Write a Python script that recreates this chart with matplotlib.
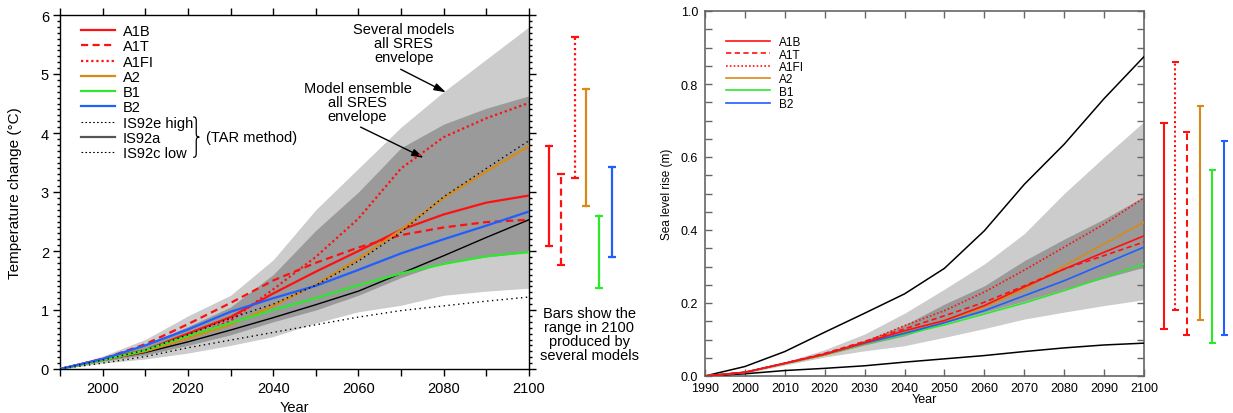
import matplotlib
matplotlib.use('Agg')
import matplotlib.pyplot as plt
from matplotlib.ticker import MultipleLocator, FormatStrFormatter
from matplotlib.lines import Line2D
from matplotlib.path import Path
from matplotlib.patches import PathPatch

plt.rcParams['font.family'] = ['Liberation Sans', 'DejaVu Sans']

# ---------------- data: temperature change (left) ----------------
years = [1990, 2000, 2010, 2020, 2030, 2040, 2050, 2060, 2070, 2080, 2090, 2100]
t_a1b = [0, 0.17, 0.32, 0.60, 0.88, 1.28, 1.65, 2.00, 2.36, 2.62, 2.82, 2.94]
t_a1t = [0, 0.17, 0.42, 0.76, 1.12, 1.50, 1.80, 2.06, 2.27, 2.40, 2.49, 2.53]
t_a1fi = [0, 0.15, 0.30, 0.52, 0.82, 1.35, 1.90, 2.55, 3.40, 3.93, 4.25, 4.51]
t_a2 = [0, 0.15, 0.30, 0.52, 0.75, 1.07, 1.43, 1.87, 2.36, 2.90, 3.35, 3.78]
t_b1 = [0, 0.15, 0.32, 0.56, 0.78, 1.00, 1.20, 1.42, 1.62, 1.78, 1.91, 1.98]
t_b2 = [0, 0.17, 0.40, 0.67, 0.97, 1.20, 1.41, 1.68, 1.96, 2.20, 2.43, 2.67]
t_is92e = [0, 0.15, 0.32, 0.58, 0.86, 1.10, 1.42, 1.83, 2.32, 2.92, 3.40, 3.87]
t_is92a = [0, 0.15, 0.28, 0.46, 0.66, 0.87, 1.09, 1.32, 1.62, 1.92, 2.23, 2.53]
t_is92c = [0, 0.10, 0.21, 0.36, 0.49, 0.62, 0.75, 0.88, 0.99, 1.07, 1.15, 1.22]
t_sev_hi = [0, 0.22, 0.50, 0.90, 1.25, 1.85, 2.70, 3.40, 4.10, 4.70, 5.25, 5.80]
t_sev_lo = [0, 0.10, 0.17, 0.27, 0.40, 0.55, 0.78, 0.97, 1.08, 1.25, 1.32, 1.37]
t_ens_hi = [0, 0.18, 0.42, 0.72, 1.05, 1.60, 2.35, 3.00, 3.75, 4.15, 4.42, 4.63]
t_ens_lo = [0, 0.13, 0.24, 0.40, 0.58, 0.80, 1.00, 1.25, 1.55, 1.80, 1.90, 1.98]

bar_names_t = ['A1B', 'A1T', 'A1FI', 'A2', 'B1', 'B2']
bar_lo_t = [2.08, 1.77, 3.23, 2.77, 1.37, 1.89]
bar_hi_t = [3.78, 3.31, 5.62, 4.74, 2.59, 3.42]

# ---------------- data: sea level rise (right) ----------------
s_a1b = [0, 0.010, 0.035, 0.060, 0.092, 0.124, 0.152, 0.193, 0.244, 0.293, 0.339, 0.384]
s_a1t = [0, 0.010, 0.035, 0.062, 0.095, 0.129, 0.165, 0.202, 0.247, 0.293, 0.330, 0.367]
s_a1fi = [0, 0.010, 0.035, 0.060, 0.093, 0.138, 0.179, 0.230, 0.290, 0.353, 0.416, 0.488]
s_a2 = [0, 0.010, 0.034, 0.058, 0.088, 0.119, 0.148, 0.189, 0.238, 0.302, 0.362, 0.421]
s_b1 = [0, 0.010, 0.034, 0.058, 0.087, 0.114, 0.140, 0.170, 0.200, 0.234, 0.270, 0.307]
s_b2 = [0, 0.010, 0.035, 0.060, 0.090, 0.117, 0.146, 0.179, 0.220, 0.261, 0.307, 0.353]
s_max = [0, 0.026, 0.067, 0.120, 0.172, 0.225, 0.295, 0.398, 0.525, 0.635, 0.760, 0.875]
s_min = [0, 0.006, 0.015, 0.021, 0.028, 0.038, 0.047, 0.056, 0.067, 0.077, 0.085, 0.090]
s_sev_hi = [0, 0.013, 0.038, 0.072, 0.115, 0.172, 0.238, 0.307, 0.390, 0.500, 0.600, 0.697]
s_sev_lo = [0, 0.007, 0.030, 0.052, 0.069, 0.083, 0.106, 0.130, 0.156, 0.175, 0.193, 0.209]
s_ens_hi = [0, 0.011, 0.036, 0.063, 0.098, 0.140, 0.197, 0.247, 0.316, 0.375, 0.430, 0.492]
s_ens_lo = [0, 0.009, 0.033, 0.057, 0.085, 0.110, 0.145, 0.175, 0.205, 0.238, 0.268, 0.298]

bar_names_s = ['A1B', 'A1FI', 'A1T', 'A2', 'B1', 'B2']
bar_lo_s = [0.129, 0.181, 0.112, 0.154, 0.090, 0.112]
bar_hi_s = [0.693, 0.859, 0.669, 0.740, 0.565, 0.645]

# ---------------- styles ----------------
RED, ORANGE, GREEN, BLUE = '#ff1010', '#d98a16', '#2ee82e', '#1f5eff'
LIGHT, DARK = '#cccccc', '#9a9a9a'
style = {
    'A1B': dict(color=RED, ls='-'),
    'A1T': dict(color=RED, ls=(0, (3.2, 2.0))),
    'A1FI': dict(color=RED, ls=(0, (1.0, 1.3))),
    'A2': dict(color=ORANGE, ls='-'),
    'B1': dict(color=GREEN, ls='-'),
    'B2': dict(color=BLUE, ls='-'),
}
bar_x_t = [2104.7, 2107.5, 2110.8, 2113.4, 2116.4, 2119.5]
bar_x_s = [2105.0, 2107.8, 2110.7, 2114.1, 2117.1, 2120.1]
ARROW = dict(arrowstyle='-|>,head_length=0.7,head_width=0.22', color='black', lw=1.0,
             shrinkA=0, shrinkB=0, mutation_scale=10)

fig = plt.figure(figsize=(12.33, 4.14), dpi=100)
ax1 = fig.add_axes([60 / 1233, 44 / 414, 469 / 1233, 354 / 414])
ax2 = fig.add_axes([705 / 1233, 37 / 414, 439 / 1233, 365 / 414])

# ================= left panel =================
ax1.fill_between(years, t_sev_lo, t_sev_hi, color=LIGHT, lw=0, zorder=1)
ax1.fill_between(years, t_ens_lo, t_ens_hi, color=DARK, lw=0, zorder=2)
ax1.plot(years, t_is92c, color='black', lw=1.0, ls=(0, (1, 2.5)), zorder=3)
ax1.plot(years, t_is92a, color='black', lw=1.0, zorder=3)
series_t = {'A1B': t_a1b, 'A1T': t_a1t, 'A1FI': t_a1fi, 'A2': t_a2, 'B1': t_b1, 'B2': t_b2}
handles = []
for name in ['A1B', 'A1T', 'A1FI', 'A2', 'B1', 'B2']:
    ln, = ax1.plot(years, series_t[name], color=style[name]['color'], ls=style[name]['ls'],
                   lw=1.6, zorder=4, label=name)
    handles.append(ln)
ax1.plot(years, t_is92e, color='black', lw=1.0, ls=(0, (1, 2.5)), zorder=5)
handles.append(Line2D([], [], color='black', lw=0.8, ls=(0, (1.5, 2.0)), label='IS92e high'))
handles.append(Line2D([], [], color='#555555', lw=1.6, label='IS92a'))
handles.append(Line2D([], [], color='black', lw=0.8, ls=(0, (1.5, 2.0)), label='IS92c low'))

for name, x, lo, hi in zip(bar_names_t, bar_x_t, bar_lo_t, bar_hi_t):
    c = style[name]['color']
    ax1.plot([x, x], [lo, hi], color=c, ls=style[name]['ls'], lw=1.6, clip_on=False)
    for yv in (lo, hi):
        ax1.plot([x - 1.0, x + 1.0], [yv, yv], color=c, lw=1.6, clip_on=False,
                 solid_capstyle='butt')

ax1.set_xlim(1990, 2100)
ax1.set_ylim(0, 6)
ax1.xaxis.set_major_locator(MultipleLocator(20))
ax1.xaxis.set_minor_locator(MultipleLocator(10))
ax1.yaxis.set_major_locator(MultipleLocator(1))
ax1.yaxis.set_minor_locator(MultipleLocator(0.1))
ax1.tick_params(which='both', direction='out', top=True, right=True, width=1.0,
                labelsize=10.5, colors='black')
ax1.tick_params(axis='x', which='major', length=5, pad=4)
ax1.tick_params(axis='x', which='minor', length=5)
ax1.tick_params(axis='y', which='major', length=5, pad=3)
ax1.tick_params(axis='y', which='minor', length=2.5)
for sp in ax1.spines.values():
    sp.set_linewidth(1.0)
ax1.set_xlabel('Year', fontsize=10.5)
ax1.xaxis.set_label_coords(0.5, -0.087)
ax1.set_ylabel('Temperature change (°C)', fontsize=11)
ax1.yaxis.set_label_coords(-0.081, 0.5)

ax1.legend(handles=handles, loc='upper left', bbox_to_anchor=(0.0448, 0.974),
           frameon=False, fontsize=10.5, handlelength=2.3, handletextpad=0.55,
           labelspacing=0.085, borderpad=0, borderaxespad=0)

# thin curly brace grouping the IS92 entries (axes-fraction layout)
bx, by, bw, bh = 0.284, 0.655, 0.013, 0.057
verts = [(0, 1), (0.5, 1), (0.5, 0.92), (0.5, 0.75),
         (0.5, 0.2),
         (0.5, 0.06), (0.6, 0.0), (1.0, 0.0),
         (0.6, 0.0), (0.5, -0.06), (0.5, -0.2),
         (0.5, -0.75),
         (0.5, -0.92), (0.5, -1), (0, -1)]
codes = [Path.MOVETO, Path.CURVE4, Path.CURVE4, Path.CURVE4, Path.LINETO,
         Path.CURVE4, Path.CURVE4, Path.CURVE4, Path.CURVE4, Path.CURVE4, Path.CURVE4,
         Path.LINETO, Path.CURVE4, Path.CURVE4, Path.CURVE4]
verts = [(bx + vx * bw, by + vy * bh) for vx, vy in verts]
ax1.add_patch(PathPatch(Path(verts, codes), transform=ax1.transAxes, fill=False,
                        lw=0.9, edgecolor='black'))
ax1.text(0.311, 0.655, '(TAR method)', transform=ax1.transAxes, fontsize=10.5,
         ha='left', va='center')

ax1.text(2070.6, 5.52, 'Several models\nall SRES\nenvelope', ha='center', va='center',
         fontsize=10.5, linespacing=1.0)
ax1.annotate('', xy=(2080.5, 4.69), xytext=(2069.9, 5.08), arrowprops=ARROW)
ax1.text(2059.8, 4.53, 'Model ensemble\nall SRES\nenvelope', ha='center', va='center',
         fontsize=10.5, linespacing=1.0)
ax1.annotate('', xy=(2075.3, 3.58), xytext=(2060.5, 4.10), arrowprops=ARROW)
ax1.text(2114.1, 0.60, 'Bars show the\nrange in 2100\nproduced by\nseveral models',
         ha='center', va='center', fontsize=10.5, linespacing=1.0, clip_on=False)

# ================= right panel =================
ax2.fill_between(years, s_sev_lo, s_sev_hi, color=LIGHT, lw=0, zorder=1)
ax2.fill_between(years, s_ens_lo, s_ens_hi, color=DARK, lw=0, zorder=2)
ax2.plot(years, s_max, color='black', lw=1.1, zorder=3)
ax2.plot(years, s_min, color='black', lw=1.1, zorder=3)
series_s = {'A1B': s_a1b, 'A1T': s_a1t, 'A1FI': s_a1fi, 'A2': s_a2, 'B1': s_b1, 'B2': s_b2}
handles2 = []
for name in ['B1', 'A2', 'B2', 'A1T', 'A1B', 'A1FI']:
    ax2.plot(years, series_s[name], color=style[name]['color'], ls=style[name]['ls'],
             lw=1.2, zorder=4)
for name in ['A1B', 'A1T', 'A1FI', 'A2', 'B1', 'B2']:
    handles2.append(Line2D([], [], color=style[name]['color'], ls=style[name]['ls'],
                           lw=1.2, label=name))

for name, x, lo, hi in zip(bar_names_s, bar_x_s, bar_lo_s, bar_hi_s):
    c = style[name]['color']
    ax2.plot([x, x], [lo, hi], color=c, ls=style[name]['ls'], lw=1.5, clip_on=False)
    for yv in (lo, hi):
        ax2.plot([x - 0.9, x + 0.9], [yv, yv], color=c, lw=1.5, clip_on=False,
                 solid_capstyle='butt')

ax2.set_xlim(1990, 2100)
ax2.set_ylim(0, 1.0)
ax2.xaxis.set_major_locator(MultipleLocator(10))
ax2.yaxis.set_major_locator(MultipleLocator(0.2))
ax2.yaxis.set_minor_locator(MultipleLocator(0.05))
ax2.yaxis.set_major_formatter(FormatStrFormatter('%.1f'))
ax2.tick_params(which='both', direction='in', top=True, right=True, length=5, width=1.0,
                color='#666666', labelcolor='black', labelsize=9)
ax2.tick_params(axis='x', pad=4)
ax2.tick_params(axis='y', pad=5)
for sp in ax2.spines.values():
    sp.set_linewidth(1.2)
    sp.set_color('#666666')
ax2.set_xlabel('Year', fontsize=9)
ax2.xaxis.set_label_coords(0.5, -0.047)
ax2.set_ylabel('Sea level rise (m)', fontsize=8.5)
ax2.yaxis.set_label_coords(-0.073, 0.5)
ax2.legend(handles=handles2, loc='upper left', bbox_to_anchor=(0.0478, 0.931),
           frameon=False, fontsize=8.5, handlelength=3.7, handletextpad=0.8,
           labelspacing=0.03, borderpad=0, borderaxespad=0)

fig.savefig('out.png', dpi=100)
